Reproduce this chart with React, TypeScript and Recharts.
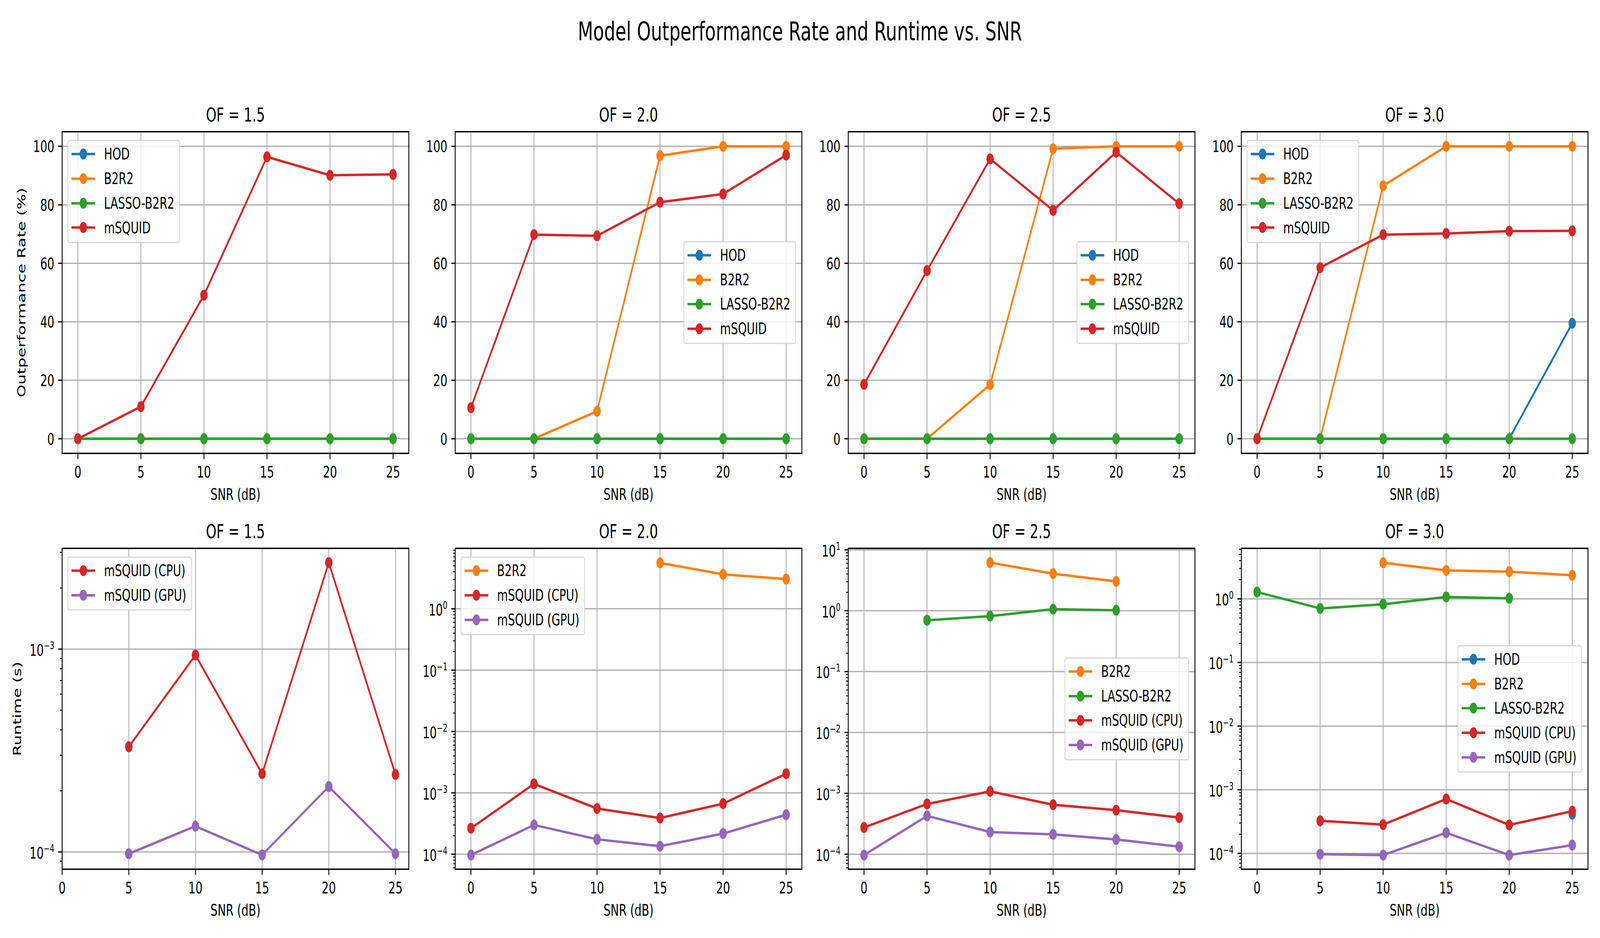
import React from 'react';
import { LineChart, Line, XAxis, YAxis, CartesianGrid, ReferenceArea } from 'recharts';

const FONT = '"DejaVu Sans", "Liberation Sans", sans-serif';
const FS = 41.7;
const FIG_W = 6000;
const FIG_H = 2400;

// ---------- data ----------
const SNR = [0, 5, 10, 15, 20, 25];
const X_TICKS = [0, 5, 10, 15, 20, 25];
const RATE_TICKS = [0, 20, 40, 60, 80, 100];
const OF_TITLES = ['OF = 1.5', 'OF = 2.0', 'OF = 2.5', 'OF = 3.0'];

// Outperformance rate (%)
const RATE_OF15_HOD = [0, 0, 0, 0, 0, 0];
const RATE_OF15_B2R2 = [0, 0, 0, 0, 0, 0];
const RATE_OF15_LASSO = [0, 0, 0, 0, 0, 0];
const RATE_OF15_MSQUID = [0, 11.0, 49.1, 96.4, 90.1, 90.4];

const RATE_OF20_HOD = [0, 0, 0, 0, 0, 0];
const RATE_OF20_B2R2 = [0, 0, 9.4, 96.8, 100, 100];
const RATE_OF20_LASSO = [0, 0, 0, 0, 0, 0];
const RATE_OF20_MSQUID = [10.6, 69.8, 69.4, 80.9, 83.7, 97.0];

const RATE_OF25_HOD = [0, 0, 0, 0, 0, 0];
const RATE_OF25_B2R2 = [0, 0, 18.5, 99.2, 100, 100];
const RATE_OF25_LASSO = [0, 0, 0, 0, 0, 0];
const RATE_OF25_MSQUID = [18.6, 57.5, 95.7, 78.1, 98.0, 80.4];

const RATE_OF30_HOD = [0, 0, 0, 0, 0, 39.5];
const RATE_OF30_B2R2 = [0, 0, 86.5, 100, 100, 100];
const RATE_OF30_LASSO = [0, 0, 0, 0, 0, 0];
const RATE_OF30_MSQUID = [0, 58.5, 69.8, 70.2, 71.0, 71.1];

// Runtime (s)
const RT_OF15_CPU = [null, 3.3e-4, 9.35e-4, 2.43e-4, 2.67e-3, 2.41e-4];
const RT_OF15_GPU = [null, 9.8e-5, 1.34e-4, 9.67e-5, 2.1e-4, 9.8e-5];

const RT_OF20_B2R2 = [null, null, null, 5.6, 3.63, 3.04];
const RT_OF20_CPU = [2.65e-4, 1.4e-3, 5.56e-4, 3.89e-4, 6.66e-4, 2.05e-3];
const RT_OF20_GPU = [9.7e-5, 3.0e-4, 1.75e-4, 1.35e-4, 2.17e-4, 4.4e-4];

const RT_OF25_B2R2 = [null, null, 6.18, 4.06, 3.03, null];
const RT_OF25_LASSO = [null, 0.697, 0.816, 1.06, 1.02, null];
const RT_OF25_CPU = [2.75e-4, 6.7e-4, 1.08e-3, 6.5e-4, 5.3e-4, 4.0e-4];
const RT_OF25_GPU = [9.7e-5, 4.27e-4, 2.32e-4, 2.12e-4, 1.75e-4, 1.33e-4];

const RT_OF30_HOD = [null, null, null, null, null, 4.13e-4];
const RT_OF30_B2R2 = [null, null, 3.7, 2.8, 2.68, 2.35];
const RT_OF30_LASSO = [1.28, 0.707, 0.823, 1.07, 1.02, null];
const RT_OF30_CPU = [null, 3.25e-4, 2.83e-4, 7.15e-4, 2.8e-4, 4.6e-4];
const RT_OF30_GPU = [null, 9.7e-5, 9.4e-5, 2.11e-4, 9.4e-5, 1.35e-4];

// ---------- styling / layout ----------
const COLORS: Record<string, string> = {
  HOD: '#1f77b4',
  B2R2: '#ff7f0e',
  LASSO: '#2ca02c',
  CPU: '#d62728',
  GPU: '#9467bd',
};
const NAMES: Record<string, string> = {
  HOD: 'HOD',
  B2R2: 'B2R2',
  LASSO: 'LASSO-B2R2',
  MSQUID: 'mSQUID',
  CPU: 'mSQUID (CPU)',
  GPU: 'mSQUID (GPU)',
};

const PLOT_LEFTS = [233, 1707, 3181, 4655];
const PLOT_W = 1300;
const TOP_ROW = { top: 337, h: 823 };
const BOT_ROW = { top: 1403, h: 821 };

const YW = 200;
const MT = 60;
const MR = 6;
const XH = 100;

type Series = { key: string; name: string; color: string; values: (number | null)[] };

function mk(key: string, colorKey: string, nameKey: string, values: (number | null)[]): Series {
  return { key, name: NAMES[nameKey], color: COLORS[colorKey], values };
}

function buildTable(series: Series[]) {
  return SNR.map((s, i) => {
    const row: Record<string, number | null> = { snr: s };
    series.forEach((se) => {
      row[se.key] = se.values[i];
    });
    return row;
  });
}

function minorLogTicks(lo: number, hi: number) {
  const out: number[] = [];
  for (let e = -6; e <= 2; e++) {
    for (let m = 2; m <= 9; m++) {
      const v = m * Math.pow(10, e);
      if (v >= lo && v <= hi) out.push(v);
    }
  }
  return out;
}

function isPow10(v: number) {
  const l = Math.log10(v);
  return Math.abs(l - Math.round(l)) < 1e-6;
}

const XTick = (props: any) => {
  const { x, y, payload } = props;
  return (
    <g>
      <line x1={x} y1={y} x2={x} y2={y + 14.6} stroke="#000" strokeWidth={3.3} />
      <text x={x} y={y + 62} textAnchor="middle" fontFamily={FONT} fontSize={FS} fill="#000">
        {payload.value}
      </text>
    </g>
  );
};

const YTick = (props: any) => {
  const { x, y, payload, log } = props;
  const v = payload.value as number;
  if (log && !isPow10(v)) {
    return <line x1={x - 8.3} y1={y} x2={x} y2={y} stroke="#000" strokeWidth={2.5} />;
  }
  if (log) {
    const e = Math.round(Math.log10(v));
    const exp = (e < 0 ? '\u2212' : '') + Math.abs(e);
    return (
      <g>
        <line x1={x - 14.6} y1={y} x2={x} y2={y} stroke="#000" strokeWidth={3.3} />
        <text x={x - 29.2} y={y + 17} textAnchor="end" fontFamily={FONT} fontSize={FS} fill="#000">
          10
          <tspan dy={-17} fontSize={27}>
            {exp}
          </tspan>
        </text>
      </g>
    );
  }
  return (
    <g>
      <line x1={x - 14.6} y1={y} x2={x} y2={y} stroke="#000" strokeWidth={3.3} />
      <text x={x - 29.2} y={y + 15} textAnchor="end" fontFamily={FONT} fontSize={FS} fill="#000">
        {v}
      </text>
    </g>
  );
};

type PanelProps = {
  left: number;
  row: { top: number; h: number };
  series: Series[];
  xDomain: [number, number];
  yDomain: [number, number];
  log: boolean;
  majorTicks: number[];
};

function Panel({ left, row, series, xDomain, yDomain, log, majorTicks }: PanelProps) {
  const data = buildTable(series);
  const yTicks = log
    ? [...majorTicks, ...minorLogTicks(yDomain[0], yDomain[1])].sort((a, b) => a - b)
    : majorTicks;
  return (
    <div style={{ position: 'absolute', left: left - YW, top: row.top - MT }}>
      <LineChart
        width={YW + PLOT_W + MR}
        height={MT + row.h + XH}
        data={data}
        margin={{ top: MT, right: MR, bottom: 0, left: 0 }}
      >
        <CartesianGrid
          stroke="#b0b0b0"
          strokeWidth={3.3}
          horizontalValues={majorTicks}
          verticalValues={X_TICKS}
        />
        <XAxis
          dataKey="snr"
          type="number"
          domain={xDomain}
          ticks={X_TICKS}
          interval={0}
          allowDataOverflow
          height={XH}
          tickSize={0}
          tickMargin={0}
          axisLine={false}
          tickLine={false}
          tick={(p: any) => <XTick {...p} />}
        />
        <YAxis
          type="number"
          scale={log ? 'log' : 'linear'}
          domain={yDomain}
          ticks={yTicks}
          interval={0}
          allowDataOverflow
          width={YW}
          tickSize={0}
          tickMargin={0}
          axisLine={false}
          tickLine={false}
          tick={(p: any) => <YTick {...p} log={log} />}
        />
        <ReferenceArea
          x1={xDomain[0]}
          x2={xDomain[1]}
          y1={yDomain[0]}
          y2={yDomain[1]}
          fill="none"
          fillOpacity={0}
          stroke="#000"
          strokeWidth={3.3}
          strokeOpacity={1}
          ifOverflow="visible"
        />
        {series.map((s) => (
          <Line
            key={s.key}
            type="linear"
            dataKey={s.key}
            name={s.name}
            stroke={s.color}
            strokeWidth={6.25}
            strokeLinejoin="round"
            dot={{ r: 12.5, fill: s.color, stroke: s.color, strokeWidth: 3 }}
            activeDot={false}
            connectNulls={false}
            isAnimationActive={false}
          />
        ))}
      </LineChart>
    </div>
  );
}

function LegendBox({
  series,
  loc,
  left,
  row,
}: {
  series: Series[];
  loc: 'ul' | 'cr';
  left: number;
  row: { top: number; h: number };
}) {
  const style: React.CSSProperties = {
    position: 'absolute',
    background: 'rgba(255,255,255,0.8)',
    border: '3.3px solid rgba(204,204,204,0.8)',
    borderRadius: 8,
    padding: '2px 18px 5px 12px',
    fontFamily: FONT,
    fontSize: FS,
    color: '#000',
    whiteSpace: 'nowrap',
    lineHeight: 1,
  };
  if (loc === 'ul') {
    style.left = left + 20;
    style.top = row.top + 21;
  } else {
    style.right = FIG_W - (left + PLOT_W) + 22;
    style.top = row.top + row.h / 2;
    style.transform = 'translateY(-50%)';
  }
  return (
    <div style={style}>
      {series.map((s) => (
        <div key={s.key} style={{ display: 'flex', alignItems: 'center', height: 62.7 }}>
          <svg width={89} height={32} style={{ display: 'block' }}>
            <line x1={0} y1={16} x2={89} y2={16} stroke={s.color} strokeWidth={6.25} />
            <circle cx={44.5} cy={16} r={12.5} fill={s.color} stroke={s.color} strokeWidth={3} />
          </svg>
          <span style={{ marginLeft: 33 }}>{s.name}</span>
        </div>
      ))}
    </div>
  );
}

const RATE_DOMAIN: [number, number] = [-5, 105];
const X_DOMAIN: [number, number] = [-1.25, 26.25];

const TOP_SERIES: Series[][] = [
  [
    mk('hod', 'HOD', 'HOD', RATE_OF15_HOD),
    mk('b2r2', 'B2R2', 'B2R2', RATE_OF15_B2R2),
    mk('lasso', 'LASSO', 'LASSO', RATE_OF15_LASSO),
    mk('msquid', 'CPU', 'MSQUID', RATE_OF15_MSQUID),
  ],
  [
    mk('hod', 'HOD', 'HOD', RATE_OF20_HOD),
    mk('b2r2', 'B2R2', 'B2R2', RATE_OF20_B2R2),
    mk('lasso', 'LASSO', 'LASSO', RATE_OF20_LASSO),
    mk('msquid', 'CPU', 'MSQUID', RATE_OF20_MSQUID),
  ],
  [
    mk('hod', 'HOD', 'HOD', RATE_OF25_HOD),
    mk('b2r2', 'B2R2', 'B2R2', RATE_OF25_B2R2),
    mk('lasso', 'LASSO', 'LASSO', RATE_OF25_LASSO),
    mk('msquid', 'CPU', 'MSQUID', RATE_OF25_MSQUID),
  ],
  [
    mk('hod', 'HOD', 'HOD', RATE_OF30_HOD),
    mk('b2r2', 'B2R2', 'B2R2', RATE_OF30_B2R2),
    mk('lasso', 'LASSO', 'LASSO', RATE_OF30_LASSO),
    mk('msquid', 'CPU', 'MSQUID', RATE_OF30_MSQUID),
  ],
];
const TOP_LEGEND_LOC: ('ul' | 'cr')[] = ['ul', 'cr', 'cr', 'ul'];

const BOT_SERIES: Series[][] = [
  [mk('cpu', 'CPU', 'CPU', RT_OF15_CPU), mk('gpu', 'GPU', 'GPU', RT_OF15_GPU)],
  [
    mk('b2r2', 'B2R2', 'B2R2', RT_OF20_B2R2),
    mk('cpu', 'CPU', 'CPU', RT_OF20_CPU),
    mk('gpu', 'GPU', 'GPU', RT_OF20_GPU),
  ],
  [
    mk('b2r2', 'B2R2', 'B2R2', RT_OF25_B2R2),
    mk('lasso', 'LASSO', 'LASSO', RT_OF25_LASSO),
    mk('cpu', 'CPU', 'CPU', RT_OF25_CPU),
    mk('gpu', 'GPU', 'GPU', RT_OF25_GPU),
  ],
  [
    mk('hod', 'HOD', 'HOD', RT_OF30_HOD),
    mk('b2r2', 'B2R2', 'B2R2', RT_OF30_B2R2),
    mk('lasso', 'LASSO', 'LASSO', RT_OF30_LASSO),
    mk('cpu', 'CPU', 'CPU', RT_OF30_CPU),
    mk('gpu', 'GPU', 'GPU', RT_OF30_GPU),
  ],
];
const BOT_LEGEND_LOC: ('ul' | 'cr')[] = ['ul', 'ul', 'cr', 'cr'];
const BOT_X_DOMAINS: [number, number][] = [[0, 26], X_DOMAIN, X_DOMAIN, X_DOMAIN];
const BOT_Y_DOMAINS: [number, number][] = [
  [8.22e-5, 3.14e-3],
  [5.7e-5, 9.64],
  [5.68e-5, 10.59],
  [5.64e-5, 6.22],
];
const BOT_MAJOR: number[][] = [
  [1e-4, 1e-3],
  [1e-4, 1e-3, 1e-2, 1e-1, 1],
  [1e-4, 1e-3, 1e-2, 1e-1, 1, 10],
  [1e-4, 1e-3, 1e-2, 1e-1, 1],
];

export default function App() {
  // The browser viewport may be narrower than the 6000px figure; squeeze horizontally to fit.
  const vw = typeof window !== 'undefined' ? window.innerWidth : FIG_W;
  const sx = Math.min(1, vw / FIG_W);
  return (
    <div style={{ position: 'relative', width: FIG_W * sx, height: FIG_H, overflow: 'hidden', background: '#fff' }}>
      <style>{'html,body{margin:0;padding:0;background:#fff;overflow:hidden;}'}</style>
      <div
        style={{
          position: 'absolute',
          left: 0,
          top: 0,
          width: FIG_W,
          height: FIG_H,
          background: '#fff',
          transform: `scaleX(${sx})`,
          transformOrigin: '0 0',
        }}
      >
        {PLOT_LEFTS.map((l, i) => (
          <Panel
            key={'t' + i}
            left={l}
            row={TOP_ROW}
            series={TOP_SERIES[i]}
            xDomain={X_DOMAIN}
            yDomain={RATE_DOMAIN}
            log={false}
            majorTicks={RATE_TICKS}
          />
        ))}
        {PLOT_LEFTS.map((l, i) => (
          <Panel
            key={'b' + i}
            left={l}
            row={BOT_ROW}
            series={BOT_SERIES[i]}
            xDomain={BOT_X_DOMAINS[i]}
            yDomain={BOT_Y_DOMAINS[i]}
            log={true}
            majorTicks={BOT_MAJOR[i]}
          />
        ))}
        <svg
          width={FIG_W}
          height={FIG_H}
          style={{ position: 'absolute', left: 0, top: 0, pointerEvents: 'none' }}
          fontFamily={FONT}
        >
          <text x={3000} y={103} textAnchor="middle" fontSize={66.7} fill="#000">
            Model Outperformance Rate and Runtime vs. SNR
          </text>
          {PLOT_LEFTS.map((l, i) => (
            <g key={'lbl' + i}>
              <text x={l + PLOT_W / 2} y={TOP_ROW.top - 25.5} textAnchor="middle" fontSize={50} fill="#000">
                {OF_TITLES[i]}
              </text>
              <text x={l + PLOT_W / 2} y={BOT_ROW.top - 25.5} textAnchor="middle" fontSize={50} fill="#000">
                {OF_TITLES[i]}
              </text>
              <text
                x={l + PLOT_W / 2}
                y={TOP_ROW.top + TOP_ROW.h + 119}
                textAnchor="middle"
                fontSize={FS}
                fill="#000"
              >
                SNR (dB)
              </text>
              <text
                x={l + PLOT_W / 2}
                y={BOT_ROW.top + BOT_ROW.h + 119}
                textAnchor="middle"
                fontSize={FS}
                fill="#000"
              >
                SNR (dB)
              </text>
            </g>
          ))}
          <text
            transform={`translate(95, ${TOP_ROW.top + TOP_ROW.h / 2}) rotate(-90)`}
            textAnchor="middle"
            fontSize={FS}
            fill="#000"
          >
            Outperformance Rate (%)
          </text>
          <text
            transform={`translate(79, ${BOT_ROW.top + BOT_ROW.h / 2}) rotate(-90)`}
            textAnchor="middle"
            fontSize={FS}
            fill="#000"
          >
            Runtime (s)
          </text>
        </svg>
        {PLOT_LEFTS.map((l, i) => (
          <LegendBox key={'lt' + i} series={TOP_SERIES[i]} loc={TOP_LEGEND_LOC[i]} left={l} row={TOP_ROW} />
        ))}
        {PLOT_LEFTS.map((l, i) => (
          <LegendBox key={'lb' + i} series={BOT_SERIES[i]} loc={BOT_LEGEND_LOC[i]} left={l} row={BOT_ROW} />
        ))}
      </div>
    </div>
  );
}
